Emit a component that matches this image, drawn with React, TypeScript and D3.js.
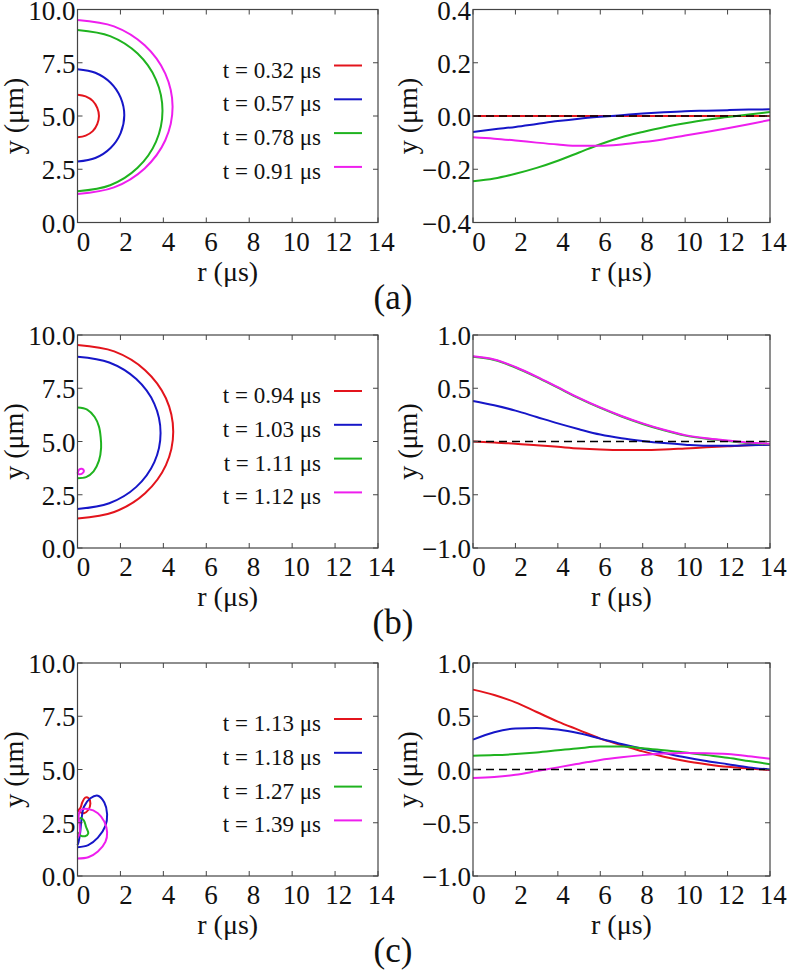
import React from 'react';
import * as d3 from 'd3';

const R_GRID = [0, 1, 2, 3, 4, 5, 6, 7, 8, 9, 10, 11, 12, 13, 14];
const X_TICKS = [0, 2, 4, 6, 8, 10, 12, 14];
const LEFT_Y_TICKS = [0, 2.5, 5, 7.5, 10];
const RIGHT_Y_TICKS_A = [-0.4, -0.2, 0, 0.2, 0.4];
const RIGHT_Y_TICKS_BC = [-1, -0.5, 0, 0.5, 1];

const SERIES_COLORS = ['#e3141c', '#1616c8', '#1fb31f', '#ee1eee'];

const TIMES_A = [0.32, 0.57, 0.78, 0.91];
const TIMES_B = [0.94, 1.03, 1.11, 1.12];
const TIMES_C = [1.13, 1.18, 1.27, 1.39];

// contours (r, y) for the left panels
const CONTOUR_A_RED = [[0, 6.0], [0.38, 5.92], [0.71, 5.71], [0.92, 5.38], [1.0, 5.0], [0.92, 4.62], [0.71, 4.29], [0.38, 4.08], [0, 4.0]];
const CONTOUR_A_BLUE = [[0, 7.2], [0.83, 7.03], [1.54, 6.56], [2.01, 5.86], [2.18, 5.03], [2.01, 4.2], [1.54, 3.5], [0.83, 3.03], [0, 2.86]];
const CONTOUR_A_GREEN = [[0, 9.04], [1.52, 8.75], [2.8, 7.93], [3.66, 6.7], [3.96, 5.25], [3.66, 3.8], [2.8, 2.57], [1.52, 1.75], [0, 1.47]];
const CONTOUR_A_MAGENTA = [[0, 9.51], [1.7, 9.21], [3.13, 8.32], [4.09, 6.99], [4.43, 5.43], [4.09, 3.86], [3.13, 2.54], [1.7, 1.65], [0, 1.34]];

const CONTOUR_B_RED = [[0, 9.53], [1.71, 9.23], [3.15, 8.35], [4.12, 7.03], [4.46, 5.46], [4.12, 3.89], [3.15, 2.57], [1.71, 1.69], [0, 1.39]];
const CONTOUR_B_BLUE = [[0, 8.98], [1.48, 8.71], [2.74, 7.93], [3.58, 6.77], [3.87, 5.4], [3.58, 4.03], [2.74, 2.87], [1.48, 2.1], [0, 1.83]];
const CONTOUR_B_GREEN = [[0, 6.6], [0.45, 6.5], [0.8, 6.15], [1.0, 5.7], [1.08, 5.2], [1.1, 4.7], [1.0, 4.1], [0.75, 3.6], [0.4, 3.33], [0, 3.28]];
const CONTOUR_B_MAGENTA = [[0, 3.5], [0.08, 3.68], [0.2, 3.72], [0.3, 3.62], [0.22, 3.5], [0.08, 3.46], [0, 3.5]];

const CONTOUR_C_RED = [[0, 3.05], [0.14, 3.2], [0.22, 3.45], [0.36, 3.68], [0.52, 3.65], [0.6, 3.4], [0.5, 3.1], [0.3, 2.95], [0.12, 3.0], [0, 3.1]];
const CONTOUR_C_BLUE = [[0, 1.35], [0.5, 1.45], [0.95, 1.8], [1.3, 2.35], [1.38, 2.9], [1.25, 3.45], [0.95, 3.77], [0.6, 3.65], [0.3, 3.25], [0.18, 2.6], [0.12, 2.0], [0.05, 1.6], [0, 1.45]];
const CONTOUR_C_GREEN = [[0, 2.6], [0.15, 2.72], [0.3, 2.6], [0.4, 2.3], [0.5, 2.0], [0.35, 1.87], [0.15, 1.9], [0, 2.05]];
const CONTOUR_C_MAGENTA = [[0, 0.82], [0.5, 0.88], [0.95, 1.15], [1.3, 1.6], [1.38, 2.05], [1.25, 2.55], [0.95, 2.95], [0.5, 3.15], [0.15, 3.1], [0.05, 2.8], [0.1, 2.4], [0.1, 2.0], [0, 1.8]];

// profiles y(r) for the right panels
const PROFILE_A_RED = [0, 0, 0, 0, 0, 0, 0, 0, 0, 0, 0, 0, 0, 0, 0];
const PROFILE_A_BLUE = [-0.06, -0.05, -0.041, -0.03, -0.019, -0.01, -0.003, 0.003, 0.009, 0.014, 0.018, 0.02, 0.022, 0.024, 0.025];
const PROFILE_A_GREEN = [-0.245, -0.235, -0.217, -0.195, -0.168, -0.137, -0.106, -0.08, -0.06, -0.042, -0.027, -0.014, -0.004, 0.006, 0.015];
const PROFILE_A_MAGENTA = [-0.08, -0.085, -0.092, -0.1, -0.107, -0.112, -0.112, -0.107, -0.098, -0.087, -0.073, -0.06, -0.046, -0.031, -0.015];

const PROFILE_B_RED = [0, -0.01, -0.02, -0.035, -0.05, -0.065, -0.075, -0.08, -0.08, -0.075, -0.065, -0.055, -0.045, -0.035, -0.03];
const PROFILE_B_BLUE = [0.38, 0.34, 0.29, 0.23, 0.17, 0.115, 0.065, 0.03, 0.005, -0.015, -0.03, -0.04, -0.04, -0.035, -0.03];
const PROFILE_B_GREEN = [0.795, 0.765, 0.695, 0.605, 0.505, 0.405, 0.315, 0.235, 0.165, 0.105, 0.055, 0.025, 0.005, -0.015, -0.025];
const PROFILE_B_MAGENTA = [0.8, 0.77, 0.7, 0.61, 0.51, 0.41, 0.32, 0.24, 0.17, 0.11, 0.06, 0.03, 0.01, -0.01, -0.02];

const PROFILE_C_RED = [0.75, 0.7, 0.63, 0.54, 0.45, 0.37, 0.29, 0.23, 0.17, 0.12, 0.08, 0.05, 0.025, 0.01, -0.005];
const PROFILE_C_BLUE = [0.28, 0.35, 0.385, 0.39, 0.375, 0.34, 0.29, 0.24, 0.195, 0.155, 0.115, 0.08, 0.05, 0.02, 0.0];
const PROFILE_C_GREEN = [0.13, 0.135, 0.145, 0.16, 0.18, 0.2, 0.215, 0.215, 0.2, 0.18, 0.16, 0.135, 0.11, 0.08, 0.05];
const PROFILE_C_MAGENTA = [-0.08, -0.07, -0.05, -0.015, 0.02, 0.055, 0.09, 0.115, 0.135, 0.15, 0.155, 0.153, 0.145, 0.125, 0.1];

const FONT = 'Liberation Serif';
const W = 787;
const H = 971;
const PANEL_TOPS = [9.5, 335, 663];
const PANEL_H = 213;
const LEFT_X = [77.5, 378];
const RIGHT_X = [473, 770];
const TICK_LEN = 5;
const TICK_FONT = 27;
const TITLE_FONT = 28;

interface PanelProps {
  top: number;
  x0: number;
  x1: number;
  yDomain: [number, number];
  yTicks: number[];
  yFmt: (v: number) => string;
  titleX: number;
  children: (x: d3.ScaleLinear<number, number>, y: d3.ScaleLinear<number, number>) => React.ReactNode;
}

function Frame({ top, x0, x1, yDomain, yTicks, yFmt, titleX, children }: PanelProps) {
  const bottom = top + PANEL_H;
  const x = d3.scaleLinear().domain([0, 14]).range([x0, x1]);
  const y = d3.scaleLinear().domain(yDomain).range([bottom, top]);
  const midY = (top + bottom) / 2;
  return (
    <g>
      {children(x, y)}
      <rect x={x0} y={top} width={x1 - x0} height={PANEL_H} fill="none" stroke="#444" strokeWidth={1.2} />
      {X_TICKS.map(t => (
        <g key={'x' + t}>
          <line x1={x(t)} x2={x(t)} y1={bottom} y2={bottom - TICK_LEN} stroke="#444" strokeWidth={1} />
          <line x1={x(t)} x2={x(t)} y1={top} y2={top + TICK_LEN} stroke="#444" strokeWidth={1} />
          {/* gnuplot-style labels sit a little right of their ticks */}
          <text x={x(t) + 6 - t * 0.2} y={bottom + 28} textAnchor="middle" fontSize={TICK_FONT}>{t}</text>
        </g>
      ))}
      {yTicks.map(t => (
        <g key={'y' + t}>
          <line x1={x0} x2={x0 + TICK_LEN} y1={y(t)} y2={y(t)} stroke="#444" strokeWidth={1} />
          <line x1={x1} x2={x1 - TICK_LEN} y1={y(t)} y2={y(t)} stroke="#444" strokeWidth={1} />
          <text x={x0 - 2} y={y(t) + 10} textAnchor="end" fontSize={TICK_FONT}>{yFmt(t)}</text>
        </g>
      ))}
      <text x={(x0 + x1) / 2} y={bottom + 58} textAnchor="middle" fontSize={TITLE_FONT}>r (μs)</text>
      <text transform={`translate(${titleX},${midY}) rotate(-90)`} textAnchor="middle" fontSize={TITLE_FONT}>y (μm)</text>
    </g>
  );
}

export default function App() {
  const contours = [
    [CONTOUR_A_RED, CONTOUR_A_BLUE, CONTOUR_A_GREEN, CONTOUR_A_MAGENTA],
    [CONTOUR_B_RED, CONTOUR_B_BLUE, CONTOUR_B_GREEN, CONTOUR_B_MAGENTA],
    [CONTOUR_C_RED, CONTOUR_C_BLUE, CONTOUR_C_GREEN, CONTOUR_C_MAGENTA],
  ];
  const profiles = [
    [PROFILE_A_RED, PROFILE_A_BLUE, PROFILE_A_GREEN, PROFILE_A_MAGENTA],
    [PROFILE_B_RED, PROFILE_B_BLUE, PROFILE_B_GREEN, PROFILE_B_MAGENTA],
    [PROFILE_C_RED, PROFILE_C_BLUE, PROFILE_C_GREEN, PROFILE_C_MAGENTA],
  ];
  const times = [TIMES_A, TIMES_B, TIMES_C];
  const labels = ['(a)', '(b)', '(c)'];
  const fmt1 = d3.format('.1f');

  return (
    <svg width={W} height={H} style={{ position: 'absolute', left: 0, top: 0, background: '#fff', fontFamily: FONT, fill: '#111' }}>
      <rect width={W} height={H} fill="#fff" />
      {PANEL_TOPS.map((top, p) => (
        <g key={p}>
          <Frame top={top} x0={LEFT_X[0]} x1={LEFT_X[1]} yDomain={[0, 10]} yTicks={LEFT_Y_TICKS} yFmt={fmt1} titleX={23}>
            {(x, y) => {
              const line = d3.line<number[]>().x(d => x(d[0])).y(d => y(d[1])).curve(d3.curveCatmullRom.alpha(0.5));
              return (
                <g>
                  {contours[p].map((c, i) => (
                    <path key={i} d={line(c) || ''} fill="none" stroke={SERIES_COLORS[i]} strokeWidth={2} />
                  ))}
                  {times[p].map((t, i) => {
                    const ly = top + 56 + i * 33.8;
                    return (
                      <g key={'lg' + i}>
                        <text x={321} y={ly + 12} textAnchor="end" fontSize={23}>{`t = ${t.toFixed(2)} μs`}</text>
                        <line x1={334} x2={362} y1={ly} y2={ly} stroke={SERIES_COLORS[i]} strokeWidth={2} />
                      </g>
                    );
                  })}
                </g>
              );
            }}
          </Frame>
          <Frame top={top} x0={RIGHT_X[0]} x1={RIGHT_X[1]} yDomain={p === 0 ? [-0.4, 0.4] : [-1, 1]}
            yTicks={p === 0 ? RIGHT_Y_TICKS_A : RIGHT_Y_TICKS_BC} yFmt={fmt1} titleX={417}>
            {(x, y) => {
              const line = d3.line<number>().x((_, i) => x(R_GRID[i])).y(d => y(d)).curve(d3.curveMonotoneX);
              return (
                <g>
                  {profiles[p].map((s, i) => (
                    <path key={i} d={line(s) || ''} fill="none" stroke={SERIES_COLORS[i]} strokeWidth={2} />
                  ))}
                  <line x1={x(0)} x2={x(14)} y1={y(0)} y2={y(0)} stroke="#000" strokeWidth={1.5} strokeDasharray="8,5" />
                </g>
              );
            }}
          </Frame>
          <text x={393} y={top + PANEL_H + 86} textAnchor="middle" fontSize={35}>{labels[p]}</text>
        </g>
      ))}
    </svg>
  );
}
